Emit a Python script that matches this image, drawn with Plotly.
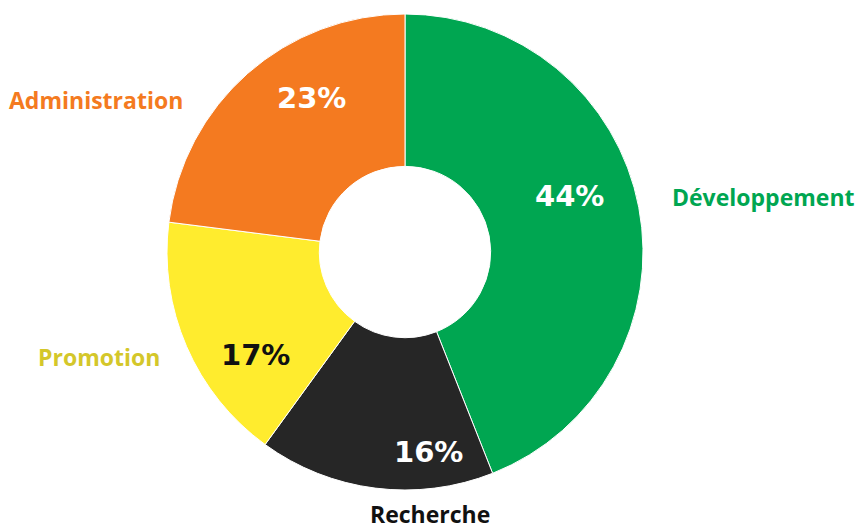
import plotly.graph_objects as go

categories = ["Développement", "Recherche", "Promotion", "Administration"]
values = [44, 16, 17, 23]
slice_colors = ["#00A651", "#262626", "#FFEC2E", "#F47A20"]
pct_text_colors = ["#FFFFFF", "#FFFFFF", "#111111", "#FFFFFF"]
label_colors = ["#00A651", "#111111", "#D4C72A", "#F47A20"]

W, H = 861, 529
cx, cy, R = 405, 252, 238

fig = go.Figure(go.Pie(
    labels=categories,
    values=values,
    marker=dict(colors=slice_colors, line=dict(color="white", width=1)),
    hole=0.36,
    sort=False,
    direction="clockwise",
    rotation=0,
    textinfo="none",
    hoverinfo="label+percent",
    domain=dict(x=[(cx - R) / W, (cx + R) / W], y=[(H - cy - R) / H, (H - cy + R) / H]),
    showlegend=False,
))

pct_font = "DejaVu Sans, sans-serif"
label_font = "Open Sans, sans-serif"
# percentage labels (positions in pixels)
pct_pos = [(569, 196), (428, 452), (255, 355), (311, 98)]
label_pos = [(763, 197), (430, 514), (99, 357), (96, 100)]

annotations = []
for v, c, (px, py) in zip(values, pct_text_colors, pct_pos):
    annotations.append(dict(
        x=px / W, y=1 - py / H, xref="paper", yref="paper",
        text=f"<b>{v}%</b>", showarrow=False,
        font=dict(family=pct_font, size=29, color=c),
        xanchor="center", yanchor="middle"))
for cat, c, (px, py) in zip(categories, label_colors, label_pos):
    annotations.append(dict(
        x=px / W, y=1 - py / H, xref="paper", yref="paper",
        text=f"<b>{cat}</b>", showarrow=False,
        font=dict(family=label_font, size=23, color=c),
        xanchor="center", yanchor="middle", borderpad=0))

fig.update_layout(
    width=W, height=H, autosize=False,
    margin=dict(l=0, r=0, t=0, b=0),
    paper_bgcolor="white", plot_bgcolor="white",
    annotations=annotations,
)

fig.write_html("out.html", config={"displayModeBar": False},
               post_script="document.body.style.margin='0';document.body.style.overflow='hidden';")
